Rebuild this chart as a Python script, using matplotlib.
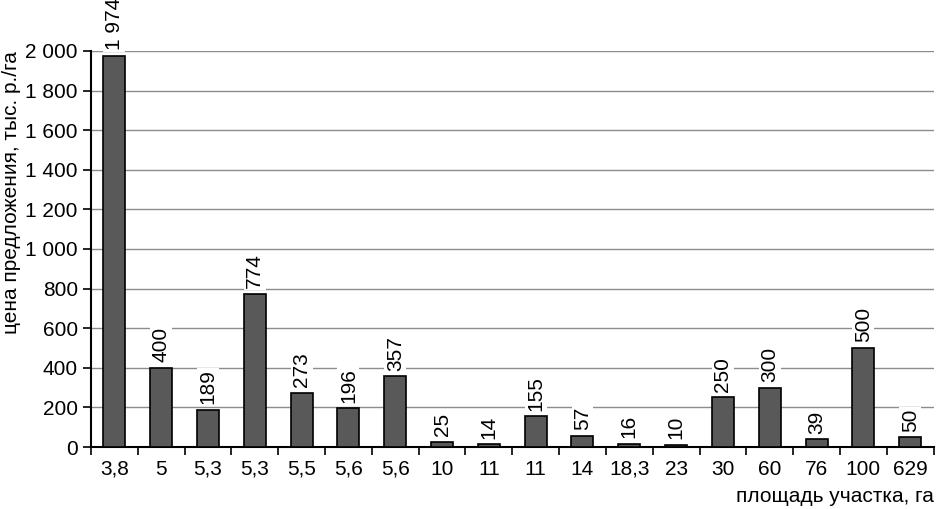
import matplotlib
matplotlib.use("Agg")
import matplotlib.pyplot as plt
import numpy as np

plt.rcParams['font.family'] = ['Liberation Sans', 'DejaVu Sans']

areas = ["3,8", "5", "5,3", "5,3", "5,5", "5,6", "5,6", "10", "11", "11",
         "14", "18,3", "23", "30", "60", "76", "100", "629"]
prices = [1974, 400, 189, 774, 273, 196, 357, 25, 14, 155,
          57, 16, 10, 250, 300, 39, 500, 50]


def fmt(v):
    return f"{v:,}".replace(",", " ")


fig = plt.figure(figsize=(9.43, 5.09), dpi=100)
ax = fig.add_axes([0.0965, 0.1218, 0.8935, 0.7782])

x = np.arange(len(prices))
ax.bar(x, prices, width=0.47, color="#595959", edgecolor="black", lw=1.2, zorder=3)

for xi, v in zip(x, prices):
    ax.annotate(fmt(v), (xi, v), xytext=(0, 4), textcoords="offset points",
                rotation=90, ha="center", va="bottom", fontsize=15,
                bbox=dict(facecolor="white", edgecolor="none", pad=1),
                zorder=4, annotation_clip=False)

ax.set_xlim(-0.5, len(prices) - 0.5)
ax.set_ylim(0, 2000)
ax.set_yticks(range(0, 2001, 200))
ax.set_yticklabels([fmt(v) for v in range(0, 2001, 200)], fontsize=15)
ax.set_xticks(x)
ax.set_xticklabels(areas, fontsize=15)
ax.set_xticks(np.arange(-0.5, len(prices)), minor=True)
ax.tick_params(axis="x", which="major", length=0, pad=9)
ax.tick_params(axis="x", which="minor", length=6, width=1.2, direction="out")
ax.tick_params(axis="y", length=6, width=1.2, direction="out")

ax.grid(axis="y", color="#8c8c8c", lw=1, zorder=0)
for s in ["top", "right"]:
    ax.spines[s].set_visible(False)
for s in ["left", "bottom"]:
    ax.spines[s].set_linewidth(1.5)

ax.set_xlabel("площадь участка, га", fontsize=15, loc="right", labelpad=6)
ax.set_ylabel("цена предложения, тыс. р./га", fontsize=15, loc="top", labelpad=3)

fig.savefig("out.png", dpi=100)
